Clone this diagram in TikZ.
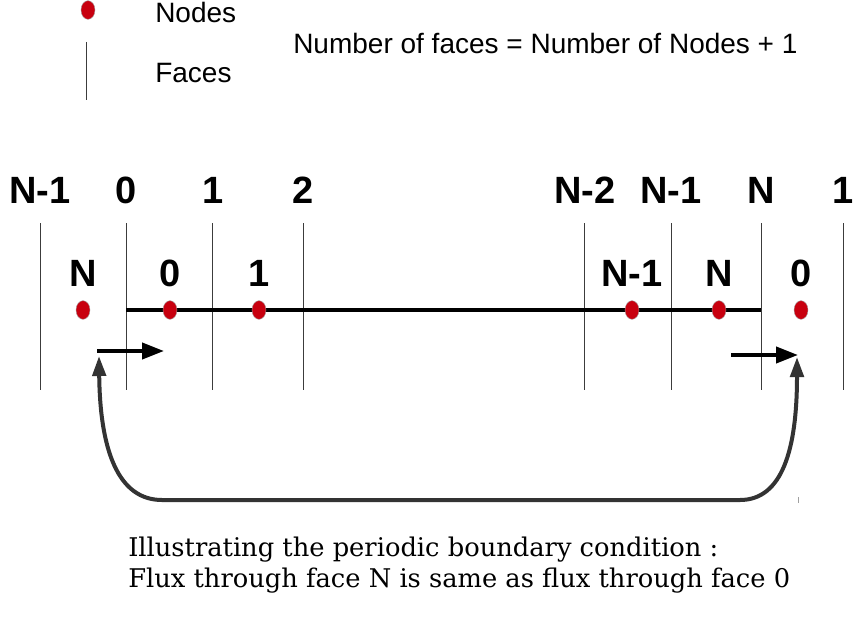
\documentclass[tikz,border=0pt]{standalone}
\usepackage{fontspec}
\setmainfont{Liberation Sans}
\newfontfamily\notefont{DejaVu Serif}
\usepackage{tikz}
\usetikzlibrary{arrows.meta,positioning,shapes.geometric}
\definecolor{pbcred}{HTML}{C8000F}
\definecolor{pbcedge}{HTML}{A0A0A0}
\definecolor{pbcgray}{HTML}{3C3C3C}
\definecolor{pbcdark}{HTML}{333333}
\tikzset{
  cellpt/.style={ellipse,draw=pbcedge,line width=0.3pt,fill=pbcred,minimum width=10.5pt,minimum height=14pt,inner sep=0pt},
  idx/.style={font=\fontsize{28.5}{32}\selectfont\bfseries,anchor=base,inner sep=0pt},
  legendtext/.style={font=\fontsize{21}{24}\selectfont,anchor=base west,inner sep=0pt},
  notetext/.style={font=\notefont\fontsize{19.3}{23}\selectfont,anchor=base west,inner sep=0pt},
  facerule/.style={draw=pbcgray,line width=0.7pt},
  mesh/.style={line width=2.4pt},
  flux/.style={-{Triangle[length=16.5pt,width=12pt]},line width=3pt},
  wrap/.style={{Triangle[length=15pt,width=10pt]}-{Triangle[length=15pt,width=10pt]},line width=3pt,draw=pbcdark}
}
\begin{document}
\begin{tikzpicture}[x=0.75pt,y=-0.75pt]
\useasboundingbox (0,0) rectangle (855,617);
% legend
\node[cellpt] (keynode) at (88,10) {};
\draw[facerule] (86,42) -- (86,100);
\node[legendtext] (keynodes) at (155,23) {Nodes};
\node[legendtext] (keyfaces) at (155,82) {Faces};
\node[legendtext] (rule) at (293,54) {Number of faces = Number of Nodes + 1};
% faces
\foreach \fx/\fname in {40/N-1,126.3/0,212.7/1,303.3/2,584.7/N-2,671/N-1,761.3/N,843.3/1} {
  \draw[facerule] (\fx,223) -- (\fx,390);
  \node[idx] at (\fx,203) {\fname};
}
\coordinate (f0) at (126.3,310);
\coordinate (fN) at (761.3,310);
\draw[mesh] (f0) -- (fN);
% nodes
\foreach \px/\pname/\ptag in {83/N/gl,170/0/a,259/1/b,632/N-1/c,719/N/d,801/0/gr} {
  \node[cellpt] (p\ptag) at (\px,310) {};
  \node[idx] (l\ptag) at (\px,286) {\pname};
}
% flux through face 0 and face N
\coordinate (in0) at (97,351);
\coordinate (out0) at (164,351);
\coordinate (inN) at (731,355);
\coordinate (outN) at (798,355);
\draw[flux] (in0) -- (out0);
\draw[flux] (inN) -- (outN);
\draw[wrap] (99,356) .. controls (100,450) and (118,500) .. (162,500) -- (740,500) .. controls (782,500) and (797,450) .. (797,357);
\draw[draw=pbcedge,line width=0.6pt] (798,497) -- (798,503);
% caption
\node[notetext] (note1) at (128,556) {Illustrating the periodic boundary condition :};
\node[notetext] (note2) at (128,587) {Flux through face N is same as flux through face 0};
\end{tikzpicture}
\end{document}
